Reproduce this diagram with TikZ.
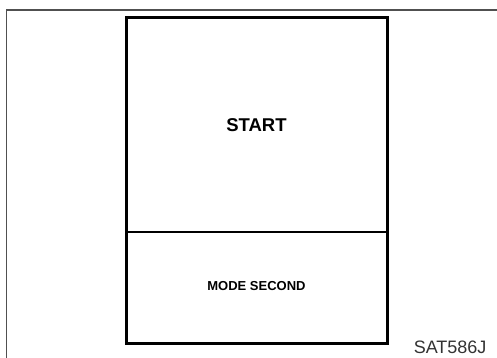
\documentclass[tikz,border=0pt]{standalone}
\usepackage{fontspec}
\setmainfont{Liberation Sans}
\usetikzlibrary{positioning}
\definecolor{frameGrey}{HTML}{505050}
\tikzset{
  % outer frame and the display panel
  frameline/.style = {frameGrey, line width=1.6pt},
  panelline/.style = {black, line width=3pt},
  divline/.style   = {black, line width=1.6pt},
  bigtxt/.style    = {font=\fontsize{18.5}{20}\selectfont\bfseries},
  smalltxt/.style  = {font=\fontsize{13}{15}\selectfont\bfseries},
  codetxt/.style   = {font=\fontsize{18}{20}\selectfont, text=black!80},
}

\begin{document}
\begin{tikzpicture}[x=1pt, y=-1pt]
  \useasboundingbox (0,0) rectangle (497,358);
  % outer frame (top and left only)
  \draw[frameline] (497,10) -- (6.5,10) -- (6.5,358);
  % panel
  \coordinate (pnw) at (126,18);
  \coordinate (pse) at (387,343);
  \draw[panelline] (pnw) rectangle (pse);
  % divider between the two fields
  \coordinate (dl) at (126,232);
  \coordinate (dr) at (387,232);
  \draw[divline] (dl) -- (dr);
  % texts
  \node[bigtxt] (start) at (256.5,125) {START};
  \node[smalltxt] (mode) at (256.5,286.5) {MODE SECOND};
  \node[codetxt, anchor=base east] (code) at (490,353) {SAT586J};
\end{tikzpicture}
\end{document}
